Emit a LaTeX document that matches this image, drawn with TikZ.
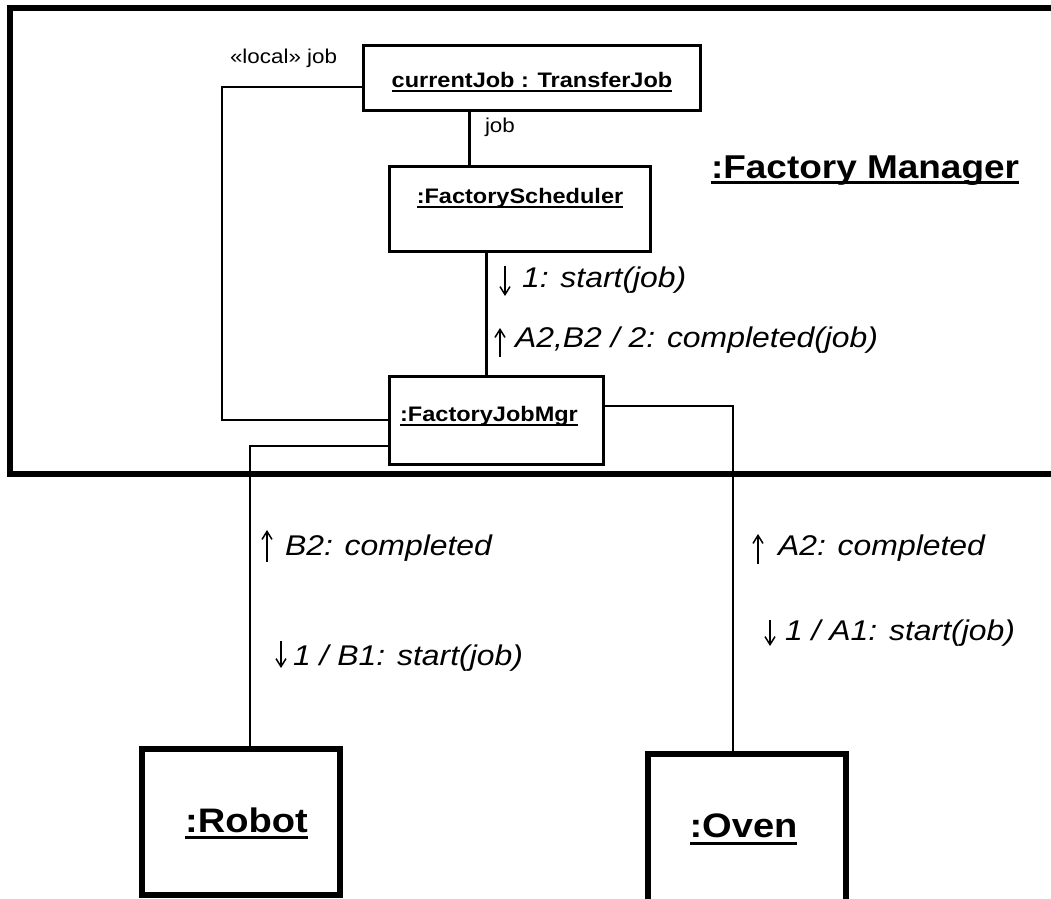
\documentclass[tikz,border=0pt]{standalone}
\usepackage{fontspec}
\setmainfont[FakeStretch=1.12]{Liberation Sans}
\usetikzlibrary{arrows.meta}
\newcommand\ulx[3]{{\setbox0=\hbox{#3}\dp0=0pt\vtop{\box0\kern#1\hrule height #2\relax}}}
\begin{document}
\begin{tikzpicture}[x=1pt,y=-1pt,
  every node/.style={inner sep=0pt, outer sep=0pt},
  frame/.style={line width=6pt},
  obj/.style={draw, line width=3pt, rectangle, inner sep=0pt, text depth=0pt, font=\bfseries\fontsize{21}{25}\selectfont},
  bigobj/.style={draw, line width=6pt, rectangle, inner sep=0pt, text depth=0pt, font=\bfseries\fontsize{34}{40}\selectfont},
  link/.style={line width=1.6pt},
  strong/.style={line width=3pt},
  msg/.style={font=\itshape\fontsize{28.5}{32}\selectfont, anchor=base west},
  role/.style={font=\fontsize{20}{24}\selectfont, anchor=base west},
  dir/.style={line width=1.5pt, -{Straight Barb[length=8pt,width=10pt]}}
]
\useasboundingbox (0,0) rectangle (1051,898);
\draw[frame] (10,8) rectangle (1070,474);

% objects
\node[obj, minimum width=337pt, minimum height=65pt, text height=18pt] (cj) at (532,78) {\ulx{3pt}{2pt}{currentJob : TransferJob}};
\node[obj, minimum width=261pt, minimum height=85pt, text height=0pt, text depth=12pt] (fs) at (520,209) {\ulx{3pt}{2pt}{:FactoryScheduler}};
\node[obj, minimum width=214pt, minimum height=88pt, text height=1pt] (jm) at (496.5,420.5) {\ulx{3pt}{2pt}{:FactoryJobMgr}\kern15pt};
\node[bigobj, minimum width=198pt, minimum height=146pt, text height=20pt] (rb) at (241,822) {\kern11pt\ulx{3.5pt}{3pt}{:Robot}};
\node[bigobj, minimum width=198pt, minimum height=160pt, text height=6pt] (ov) at (747,834) {\ulx{4.5pt}{3pt}{:Oven}\kern7pt};

% frame title
\node[font=\bfseries\fontsize{33}{38}\selectfont, anchor=base west] (fm) at (711,178) {\ulx{2.5pt}{3pt}{:Factory Manager}};

% connectors
\draw[strong] (cj.south -| 469,0) -- (fs.north -| 469,0);
\draw[strong] (fs.south -| 486,0) -- (jm.north -| 486,0);
\draw[link] (cj.west |- 0,87) -| (222,420) -- (jm.west |- 0,420);
\draw[link] (jm.west |- 0,446) -| (rb.north -| 250,0);
\draw[link] (jm.east |- 0,406) -| (ov.north -| 733,0);

% role names
\node[role] (r1) at (230,63) {«local» job};
\node[role] (r2) at (485,132) {job};

% messages
\node[msg] (m1) at (522,287) {1: start(job)};
\node[msg] (m2) at (515,347) {A2,B2 / 2: completed(job)};
\node[msg] (m3) at (285,555) {B2: completed};
\node[msg] (m4) at (293,665) {1 / B1: start(job)};
\node[msg] (m5) at (778,555) {A2: completed};
\node[msg] (m6) at (785,640) {1 / A1: start(job)};

% direction arrows
\draw[dir] ([shift={(-17,-21)}]m1.base west) -- ([shift={(-17,9)}]m1.base west);
\draw[dir] ([shift={(-15,10)}]m2.base west) -- ([shift={(-15,-19)}]m2.base west);
\draw[dir] ([shift={(-18,7)}]m3.base west) -- ([shift={(-18,-25)}]m3.base west);
\draw[dir] ([shift={(-12,-24)}]m4.base west) -- ([shift={(-12,3)}]m4.base west);
\draw[dir] ([shift={(-20,9)}]m5.base west) -- ([shift={(-20,-21)}]m5.base west);
\draw[dir] ([shift={(-15,-20)}]m6.base west) -- ([shift={(-15,6)}]m6.base west);
\end{tikzpicture}
\end{document}
